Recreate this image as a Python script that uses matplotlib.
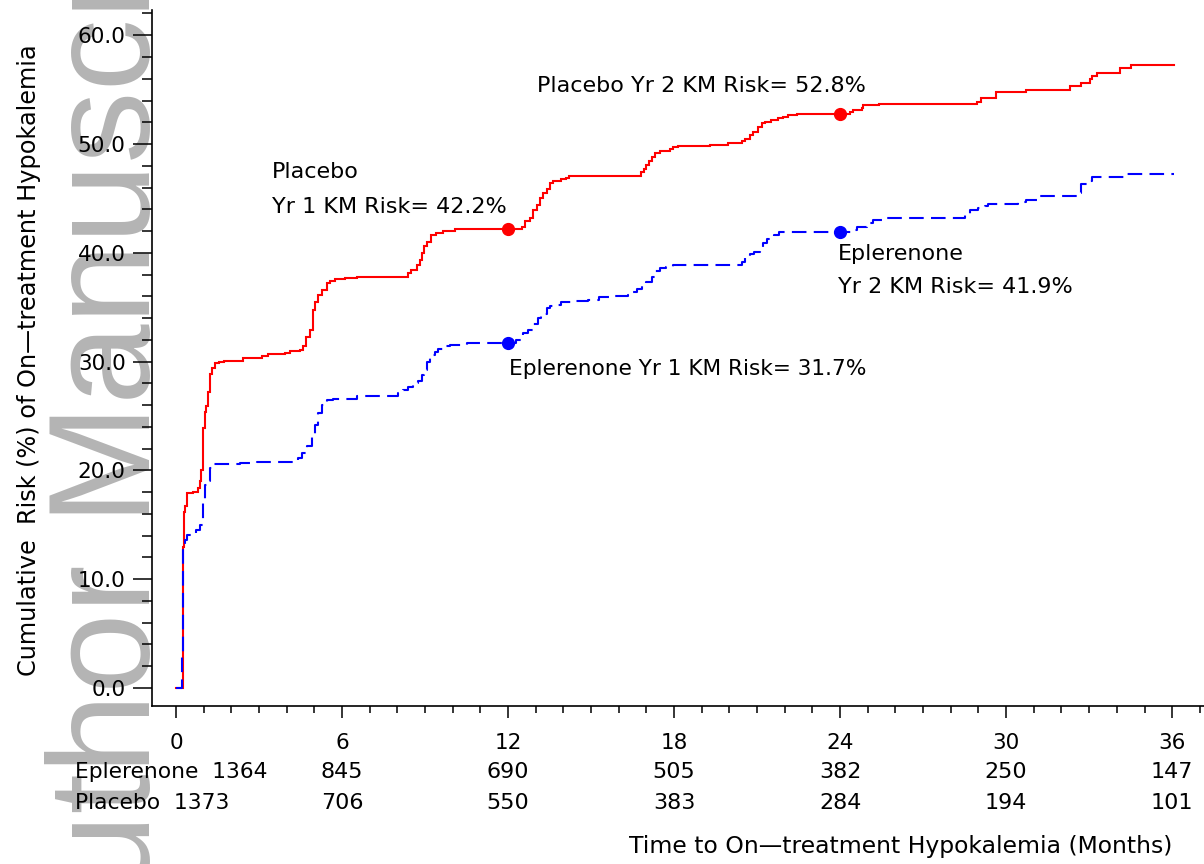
import matplotlib
matplotlib.use("Agg")
import matplotlib.pyplot as plt
from matplotlib.ticker import MultipleLocator, FormatStrFormatter
import matplotlib.transforms as mtransforms

# ---------------- data ----------------
placebo_time = [0.0, 0.24, 0.27, 0.30, 0.33, 0.38, 0.63, 0.80, 0.86, 0.92,
                0.99, 1.05, 1.10, 1.17, 1.22, 1.30, 1.40, 1.55, 1.75, 2.43,
                3.10, 3.34, 3.94, 4.12, 4.48, 4.60, 4.70, 4.85, 4.95, 5.02,
                5.14, 5.26, 5.44, 5.57, 5.75, 6.10, 6.53, 8.40, 8.50, 8.70,
                8.82, 8.90, 8.97, 9.06, 9.23, 9.41, 9.65, 10.10, 12.50, 12.60,
                12.80, 12.90, 13.03, 13.15, 13.25, 13.40, 13.50, 13.63, 13.90, 14.10,
                14.20, 16.80, 16.90, 17.00, 17.10, 17.20, 17.30, 17.50, 17.85, 17.97,
                18.15, 19.30, 19.96, 20.44, 20.56, 20.74, 20.84, 21.04, 21.17, 21.28,
                21.50, 21.77, 21.95, 22.13, 22.43, 24.36, 24.48, 24.78, 24.84, 25.40,
                28.93, 29.10, 29.65, 30.70, 32.30, 32.70, 33.03, 33.10, 33.27, 34.10,
                34.50, 36.05]
placebo_risk = [0.0, 3.8, 13.0, 16.2, 16.7, 17.9, 18.05, 18.4, 19.0, 20.0,
                23.9, 25.4, 25.9, 27.2, 28.9, 29.4, 29.9, 30.0, 30.1, 30.3,
                30.5, 30.7, 30.8, 31.0, 31.1, 31.4, 32.3, 32.9, 34.7, 35.5,
                36.1, 36.6, 37.2, 37.4, 37.6, 37.7, 37.8, 38.1, 38.4, 38.9,
                39.3, 40.0, 40.6, 41.0, 41.6, 41.8, 42.0, 42.2, 42.4, 42.9,
                43.2, 43.9, 44.4, 45.0, 45.5, 45.9, 46.4, 46.6, 46.8, 46.9,
                47.1, 47.4, 47.7, 48.1, 48.4, 48.8, 49.2, 49.4, 49.5, 49.7,
                49.8, 49.9, 50.1, 50.3, 50.5, 50.8, 51.1, 51.6, 51.9, 52.0,
                52.2, 52.4, 52.5, 52.7, 52.8, 52.9, 53.1, 53.3, 53.6, 53.7,
                53.9, 54.2, 54.8, 55.0, 55.3, 55.6, 56.0, 56.25, 56.5, 56.95,
                57.3, 57.3]

epler_time = [0.0, 0.23, 0.26, 0.33, 0.40, 0.56, 0.74, 0.86, 0.96, 1.04,
              1.13, 1.23, 1.35, 2.31, 2.91, 4.42, 4.54, 4.72, 4.90, 5.02,
              5.14, 5.26, 5.44, 5.69, 6.53, 8.04, 8.20, 8.40, 8.58, 8.76,
              8.88, 8.95, 9.06, 9.18, 9.36, 9.48, 9.66, 9.90, 10.50, 12.30,
              12.55, 12.73, 12.90, 13.10, 13.20, 13.40, 13.50, 13.75, 13.93, 14.36,
              14.90, 15.30, 15.87, 16.35, 16.46, 16.65, 16.83, 17.00, 17.20, 17.30,
              17.50, 17.70, 17.97, 20.45, 20.56, 20.74, 20.90, 21.10, 21.20, 21.35,
              21.60, 21.80, 24.45, 24.60, 24.96, 25.20, 25.60, 28.50, 28.70, 29.00,
              29.24, 29.36, 30.44, 30.70, 31.10, 31.20, 32.60, 32.70, 33.00, 33.10,
              34.35, 36.05]
epler_risk = [0.0, 2.9, 13.0, 13.6, 14.1, 14.2, 14.5, 15.0, 17.3, 18.7,
              19.0, 20.2, 20.6, 20.7, 20.8, 21.1, 21.6, 22.2, 23.1, 24.2,
              25.3, 26.0, 26.5, 26.6, 26.8, 27.1, 27.4, 27.7, 28.0, 28.2,
              28.8, 29.2, 30.0, 30.6, 30.9, 31.2, 31.4, 31.55, 31.7, 32.0,
              32.6, 32.9, 33.5, 34.0, 34.4, 34.9, 35.1, 35.2, 35.5, 35.6,
              35.7, 35.9, 36.0, 36.1, 36.4, 36.7, 37.1, 37.3, 37.8, 38.3,
              38.6, 38.7, 38.9, 39.2, 39.5, 39.9, 40.1, 40.4, 40.9, 41.3,
              41.6, 41.9, 42.1, 42.4, 42.7, 43.0, 43.2, 43.5, 43.9, 44.1,
              44.3, 44.5, 44.7, 44.9, 45.0, 45.2, 45.5, 46.3, 46.6, 47.0,
              47.2, 47.2]

marker_times = [12, 24]
placebo_marker_risk = [42.2, 52.8]
epler_marker_risk = [31.7, 41.9]

risk_times = [0, 6, 12, 18, 24, 30, 36]
epler_at_risk = [1364, 845, 690, 505, 382, 250, 147]
placebo_at_risk = [1373, 706, 550, 383, 284, 194, 101]

# ---------------- figure ----------------
W, H = 1204, 864
fig = plt.figure(figsize=(W / 100, H / 100), dpi=100)
fig.patch.set_facecolor("white")

# watermark
fig.text(150 / W, 1 - 990 / H, "Author Manuscript", rotation=90,
         rotation_mode="anchor", ha="left", va="baseline",
         fontsize=104, color="#b4b4b4", family="Liberation Sans", zorder=-1)

ax = fig.add_axes([152 / W, (H - 706) / H, (W - 152) / W, (706 - 10) / H])
ax.set_facecolor("white")

ax.plot(placebo_time, placebo_risk, drawstyle="steps-post", color="#ff0000",
        lw=1.5, solid_joinstyle="miter")
ax.plot(epler_time, epler_risk, drawstyle="steps-post", color="#0000ff",
        lw=1.5, dashes=(7, 3.5))
ax.plot(marker_times, placebo_marker_risk, "o", color="#ff0000", ms=8.5, ls="none")
ax.plot(marker_times, epler_marker_risk, "o", color="#0000ff", ms=8.5, ls="none")

ax.set_xlim(-0.867, 37.15)
ax.set_ylim(-1.654, 62.32)

for s in ["top", "right"]:
    ax.spines[s].set_visible(False)
for s in ["left", "bottom"]:
    ax.spines[s].set_linewidth(1.2)

ax.xaxis.set_major_locator(MultipleLocator(6))
ax.xaxis.set_minor_locator(MultipleLocator(1))
ax.yaxis.set_major_locator(MultipleLocator(10))
ax.yaxis.set_minor_locator(MultipleLocator(2))
ax.yaxis.set_major_formatter(FormatStrFormatter("%.1f"))

ax.tick_params(axis="x", which="major", direction="out", length=8.6, width=1.1,
               pad=11, labelsize=15.5)
ax.tick_params(axis="x", which="minor", direction="out", length=5, width=1.1)
ax.tick_params(axis="y", which="major", direction="out", length=14, width=1.1,
               pad=5, labelsize=15.5)
ax.tick_params(axis="y", which="minor", direction="out", length=7.5, width=1.1)

# annotations
tfs = 16
ax.text(13.05, 55.3, "Placebo Yr 2 KM Risk= 52.8%", fontsize=tfs, va="center", ha="left")
ax.text(3.47, 47.4, "Placebo", fontsize=tfs, va="center", ha="left")
ax.text(3.47, 44.2, "Yr 1 KM Risk= 42.2%", fontsize=tfs, va="center", ha="left")
ax.text(23.93, 39.9, "Eplerenone", fontsize=tfs, va="center", ha="left")
ax.text(23.93, 36.9, "Yr 2 KM Risk= 41.9%", fontsize=tfs, va="center", ha="left")
ax.text(12.04, 29.3, "Eplerenone Yr 1 KM Risk= 31.7%", fontsize=15.6, va="center", ha="left")

# number at risk table
trans = mtransforms.blended_transform_factory(ax.transData, ax.transAxes)
row_y = [(706 - 772) / 696, (706 - 803) / 696]
label_x = (75 - 176) / 27.67
ax.text(label_x, row_y[0], "Eplerenone  " + str(epler_at_risk[0]), transform=trans,
        fontsize=15.7, ha="left", va="center", clip_on=False)
ax.text(label_x, row_y[1], "Placebo  " + str(placebo_at_risk[0]), transform=trans,
        fontsize=15.7, ha="left", va="center", clip_on=False)
for t, e, p in zip(risk_times[1:], epler_at_risk[1:], placebo_at_risk[1:]):
    ax.text(t, row_y[0], str(e), transform=trans, fontsize=tfs, ha="center",
            va="center", clip_on=False)
    ax.text(t, row_y[1], str(p), transform=trans, fontsize=tfs, ha="center",
            va="center", clip_on=False)

ax.set_ylabel("Cumulative  Risk (%) of On\u2014treatment Hypokalemia", fontsize=17.3)
ax.yaxis.set_label_coords((41 - 152) / 1052, 0.497)
ax.set_xlabel("Time to On\u2014treatment Hypokalemia (Months)", fontsize=16.9, ha="right")
ax.xaxis.set_label_coords((1172 - 152) / 1052, (706 - 835) / 696)

fig.savefig("out.png", dpi=100)
